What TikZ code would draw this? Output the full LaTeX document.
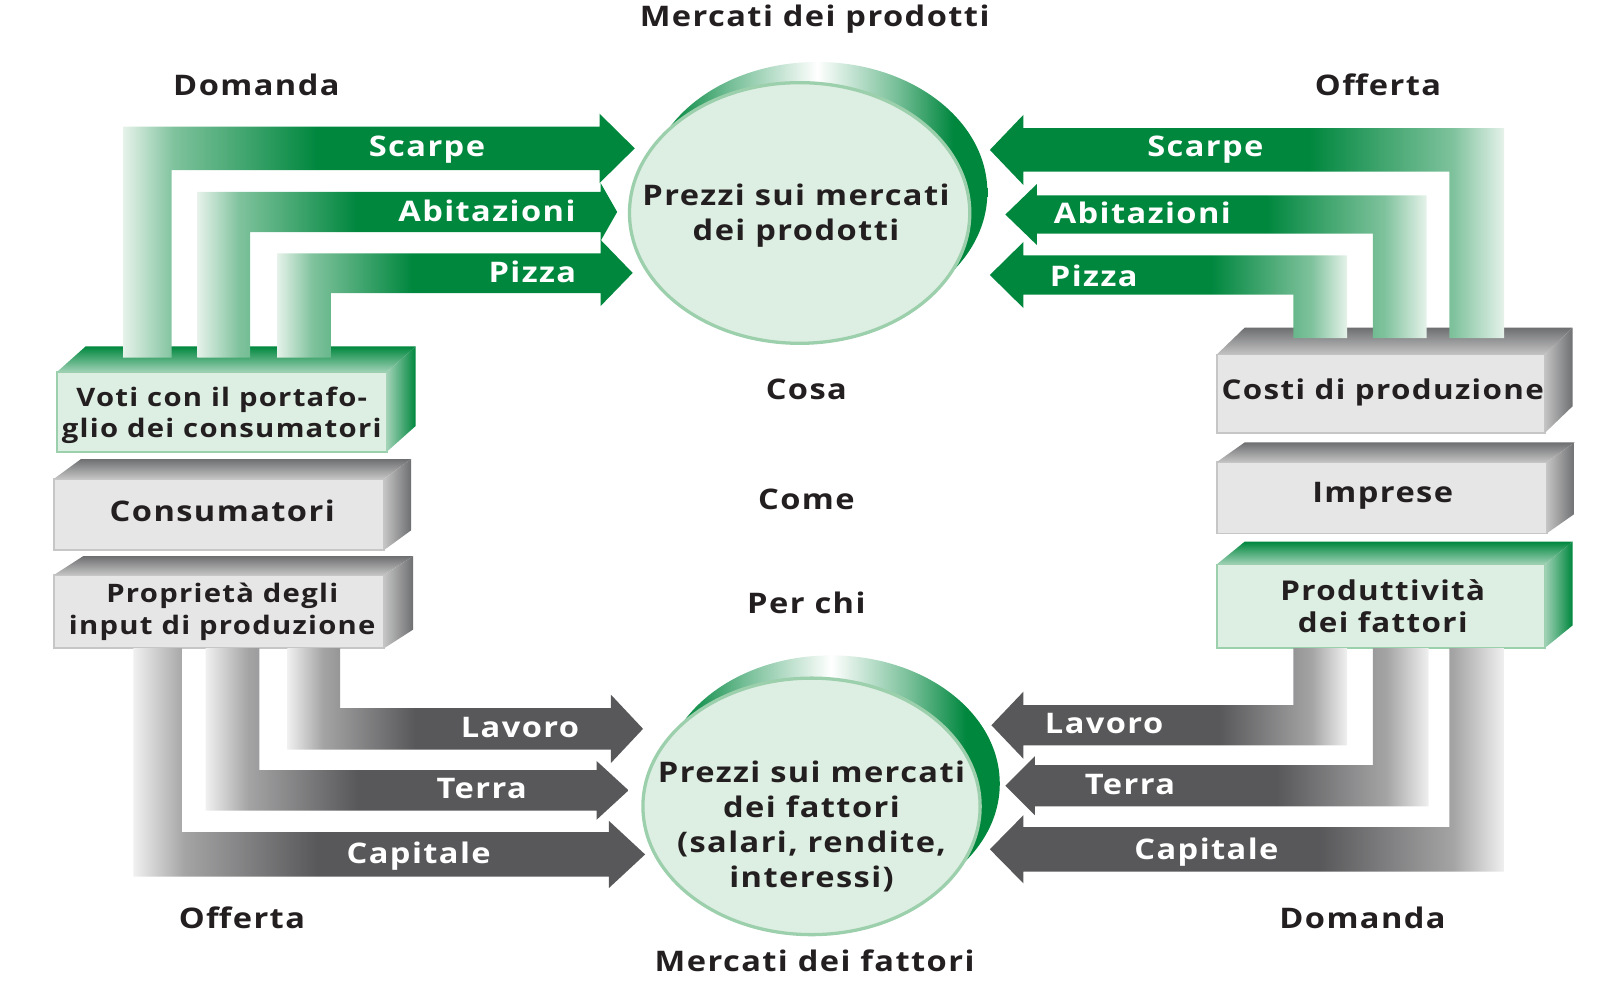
\documentclass[tikz,border=0pt]{standalone}
\usepackage{fontspec}
\newfontfamily\lblfont{Open Sans}[FakeStretch=1.15, LetterSpace=5]
\usetikzlibrary{calc,shapes.geometric}
\definecolor{gD}{HTML}{00873E}
\definecolor{gL}{HTML}{E6F2EA}
\definecolor{gFace}{HTML}{DDEEE2}
\definecolor{gEdge}{HTML}{9CCFAB}
\definecolor{kD}{HTML}{58585A}
\definecolor{kL}{HTML}{F0F0F0}
\definecolor{kFace}{HTML}{E6E6E6}
\definecolor{kEdge}{HTML}{C6C6C6}
\definecolor{kTop}{HTML}{6E6F71}
\definecolor{txt}{HTML}{231F20}
\pgfdeclarehorizontalshading{gLR}{100bp}{color(0bp)=(gL); color(25bp)=(gL); color(30bp)=(gD!45!gL); color(44bp)=(gD); color(100bp)=(gD)}
\pgfdeclarehorizontalshading{gRL}{100bp}{color(0bp)=(gD); color(56bp)=(gD); color(70bp)=(gD!45!gL); color(75bp)=(gL); color(100bp)=(gL)}
\pgfdeclarehorizontalshading{kLR}{100bp}{color(0bp)=(kL); color(25bp)=(kL); color(30bp)=(kD!50!kL); color(43bp)=(kD); color(100bp)=(kD)}
\pgfdeclarehorizontalshading{kRL}{100bp}{color(0bp)=(kD); color(57bp)=(kD); color(70bp)=(kD!50!kL); color(75bp)=(kL); color(100bp)=(kL)}
\pgfdeclarehorizontalshading{rim}{100bp}{color(0bp)=(gD); color(28bp)=(gD); color(37bp)=(gD!55!white); color(50bp)=(white); color(62bp)=(gD!55!white); color(70bp)=(gD); color(100bp)=(gD)}
\begin{document}
\begin{tikzpicture}[x=0.01cm, y=-0.01cm,
  lbl/.style={font=\lblfont\bfseries\fontsize{7.8}{9.4}\selectfont, text=txt, inner sep=0pt, anchor=base},
  wl/.style={lbl, text=white},
  ml/.style={font=\lblfont\bfseries\fontsize{7.8}{9}\selectfont, text=txt, align=center, inner sep=0pt},
  gbox/.style={draw=gEdge, fill=gFace, line width=0.5pt, outer sep=0pt, inner sep=0pt, minimum width=3.19cm},
  kbox/.style={draw=kEdge, fill=kFace, line width=0.5pt, outer sep=0pt, inner sep=0pt, minimum width=3.19cm},
  gtop/.style={top color=gD, bottom color=gL!70!gD},
  gside/.style={left color=gL!70!gD, right color=gD},
  ktop/.style={top color=kTop, bottom color=kFace!85!black},
  kside/.style={left color=kFace!85!black, right color=kTop},
  disk/.style={ellipse, draw=gEdge, fill=gFace, line width=0.9pt, minimum width=3.29cm, minimum height=2.52cm, inner sep=0pt},
  diskrim/.style={ellipse, shade, shading=rim, draw=none, minimum width=3.29cm, minimum height=2.52cm, inner sep=0pt}
]
\useasboundingbox (0,0) rectangle (1568,953);

% ---------- boxes ----------
\node[gbox, minimum height=0.77cm] (voti) at (214.5,398.5) {};
\shade[gtop] (voti.north west) -- ++(28,-25) -- ($(voti.north east)+(28,-25)$) -- (voti.north east) -- cycle;
\shade[gside] (voti.north east) -- ++(28,-25) -- ($(voti.south east)+(28,-25)$) -- (voti.south east) -- cycle;
\node[ml, font=\lblfont\bfseries\fontsize{7.0}{8.5}\selectfont] (votit) at ($(voti.center)+(0,3)$) {Voti con il portafo-\\glio dei consumatori};

\node[kbox, minimum height=0.69cm] (cons) at (212,497.5) {};
\shade[ktop] (cons.north west) -- ++(26,-19) -- ($(cons.north east)+(26,-19)$) -- (cons.north east) -- cycle;
\shade[kside] (cons.north east) -- ++(26,-19) -- ($(cons.south east)+(26,-19)$) -- (cons.south east) -- cycle;
\node[ml] (const) at ($(cons.center)+(3,-3)$) {Consumatori};

\node[kbox, minimum height=0.71cm] (prop) at (212,591.5) {};
\shade[ktop] (prop.north west) -- ++(28,-18) -- ($(prop.north east)+(28,-18)$) -- (prop.north east) -- cycle;
\shade[kside] (prop.north east) -- ++(28,-18) -- ($(prop.south east)+(28,-18)$) -- (prop.south east) -- cycle;
\node[ml, font=\lblfont\bfseries\fontsize{7.0}{8.8}\selectfont] (propt) at ($(prop.center)+(3,0)$) {Propriet\`a degli\\input di produzione};

\node[kbox, minimum width=3.17cm, minimum height=0.76cm] (costi) at (1335.5,381) {};
\shade[ktop] (costi.north west) -- ++(27,-26) -- ($(costi.north east)+(27,-26)$) -- (costi.north east) -- cycle;
\shade[kside] (costi.north east) -- ++(27,-26) -- ($(costi.south east)+(27,-26)$) -- (costi.south east) -- cycle;
\node[ml, font=\lblfont\bfseries\fontsize{7.5}{9}\selectfont] (costit) at ($(costi.center)+(2,-1)$) {Costi di produzione};

\node[kbox, minimum width=3.19cm, minimum height=0.69cm] (impr) at (1336.5,481.5) {};
\shade[ktop] (impr.north west) -- ++(27,-19) -- ($(impr.north east)+(27,-19)$) -- (impr.north east) -- cycle;
\shade[kside] (impr.north east) -- ++(27,-19) -- ($(impr.south east)+(27,-19)$) -- (impr.south east) -- cycle;
\node[ml] (imprt) at ($(impr.center)+(1,-2)$) {Imprese};

\node[gbox, minimum width=3.17cm, minimum height=0.81cm] (prod) at (1335.5,586.5) {};
\shade[gtop] (prod.north west) -- ++(27,-22) -- ($(prod.north east)+(27,-22)$) -- (prod.north east) -- cycle;
\shade[gside] (prod.north east) -- ++(27,-22) -- ($(prod.south east)+(27,-22)$) -- (prod.south east) -- cycle;
\node[ml, font=\lblfont\bfseries\fontsize{7.5}{8.8}\selectfont] (prodt) at ($(prod.center)+(2,0)$) {Produttivit\`a\\dei fattori};

% ---------- market disks ----------
\node[diskrim] (prim) at (790.5,186) {};
\node[disk] (pmkt) at (773.5,206) {};
\node[ml, font=\lblfont\bfseries\fontsize{7.8}{9.4}\selectfont] (pmktt) at (770,208.5) {Prezzi sui mercati\\dei prodotti};

\node[diskrim, minimum width=3.26cm, minimum height=2.48cm] (frim) at (804,758) {};
\node[disk, minimum width=3.26cm, minimum height=2.48cm] (fmkt) at (785,780) {};
\node[ml, font=\lblfont\bfseries\fontsize{7.8}{9.6}\selectfont] (fmktt) at (785,799.5) {Prezzi sui mercati\\dei fattori\\(salari, rendite,\\interessi)};

% ---------- green arrows (left, demand) ----------
\shade[shading=gLR] (119,346) -- (119,122.5) -- (580,122.5) -- (580,110) -- (614,143.5) -- (580,177) -- (580,164.5) -- (166,164.5) -- (166,346) -- cycle;
\shade[shading=gLR] (191,346) -- (191,185.5) -- (581,185.5) -- (581,177) -- (597,205) -- (581,233) -- (581,224.5) -- (242,224.5) -- (242,346) -- cycle;
\shade[shading=gLR] (268,346) -- (268,245) -- (581,245) -- (581,232) -- (612,264) -- (581,296) -- (581,283.5) -- (320,283.5) -- (320,346) -- cycle;
% ---------- green arrows (right, supply) ----------
\shade[shading=gRL] (1455,327) -- (1455,124) -- (990,124) -- (990,111) -- (957.5,145) -- (990,179) -- (990,166) -- (1402,166) -- (1402,327) -- cycle;
\shade[shading=gRL] (1380,327) -- (1380,189) -- (1003,189) -- (1003,178) -- (972.5,207.5) -- (1003,237) -- (1003,226) -- (1328,226) -- (1328,327) -- cycle;
\shade[shading=gRL] (1303,327) -- (1303,247) -- (990,247) -- (990,234) -- (957.5,266) -- (990,298) -- (990,285) -- (1251,285) -- (1251,327) -- cycle;
% ---------- grey arrows (left, supply of factors) ----------
\shade[shading=kLR] (278,627) -- (278,725) -- (591,725) -- (591,738) -- (622,705) -- (591,672) -- (591,685) -- (329,685) -- (329,627) -- cycle;
\shade[shading=kLR] (199,627) -- (199,784) -- (577,784) -- (577,793) -- (608,764.5) -- (577,736) -- (577,745) -- (251,745) -- (251,627) -- cycle;
\shade[shading=kLR] (129,627) -- (129,848) -- (589,848) -- (589,859) -- (624,826.5) -- (589,794) -- (589,805) -- (176,805) -- (176,627) -- cycle;
% ---------- grey arrows (right, demand of factors) ----------
\shade[shading=kRL] (1251,627) -- (1251,682) -- (990,682) -- (990,669) -- (959,701.5) -- (990,734) -- (990,721) -- (1303,721) -- (1303,627) -- cycle;
\shade[shading=kRL] (1328,627) -- (1328,740) -- (1001,740) -- (1001,731.5) -- (972.5,760) -- (1001,788.5) -- (1001,780) -- (1382,780) -- (1382,627) -- cycle;
\shade[shading=kRL] (1402,627) -- (1402,800) -- (990,800) -- (990,788.5) -- (957.5,821.5) -- (990,854.5) -- (990,843) -- (1455,843) -- (1455,627) -- cycle;

% ---------- arrow labels ----------
\node[wl] (l1) at (413,151.5) {Scarpe};
\node[wl] (l2) at (471,214.5) {Abitazioni};
\node[wl] (l3) at (515,273.5) {Pizza};
\node[wl] (r1) at (1166,151.5) {Scarpe};
\node[wl] (r2) at (1105,216.5) {Abitazioni};
\node[wl] (r3) at (1058,277.5) {Pizza};
\node[wl] (l4) at (503,713.5) {Lavoro};
\node[wl] (l5) at (466,772.5) {Terra};
\node[wl] (l6) at (405,835.5) {Capitale};
\node[wl] (r4) at (1068,709.5) {Lavoro};
\node[wl] (r5) at (1093,768.5) {Terra};
\node[wl] (r6) at (1167,831.5) {Capitale};

% ---------- free labels ----------
\node[lbl] (t1) at (788,25.5) {Mercati dei prodotti};
\node[lbl] (t2) at (248,92.5) {Domanda};
\node[lbl] (t3) at (1333,92.5) {Offerta};
\node[lbl] (t4) at (780,386) {Cosa};
\node[lbl] (t5) at (780,493) {Come};
\node[lbl] (t6) at (780,593) {Per chi};
\node[lbl] (t7) at (234,898) {Offerta};
\node[lbl] (t8) at (1318,898) {Domanda};
\node[lbl] (t9) at (788,940) {Mercati dei fattori};
\end{tikzpicture}
\end{document}
